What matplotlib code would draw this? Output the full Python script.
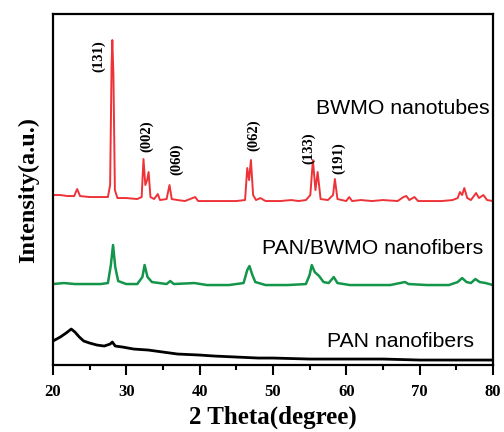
import matplotlib
matplotlib.use('Agg')
import matplotlib.pyplot as plt
from matplotlib.ticker import MultipleLocator

# XRD patterns (2 theta in degrees, intensity in arbitrary units)
bwmo_tth = [20.0, 21.0, 22.0, 22.9, 23.3, 23.7, 25.0, 26.5, 27.5, 27.8, 28.0, 28.1, 28.25, 28.45,
            28.8, 30.0, 31.5, 32.1, 32.35, 32.6, 32.85, 33.05, 33.3, 33.8, 34.3, 34.6, 35.5, 35.9,
            36.2, 37.0, 38.0, 39.4, 39.8, 41.0, 43.0, 45.0, 46.2, 46.5, 46.75, 47.0, 47.3, 47.7,
            48.3, 49.0, 51.0, 52.5, 53.5, 54.5, 55.1, 55.45, 55.8, 56.1, 56.5, 57.5, 58.2, 58.45,
            58.8, 60.0, 60.4, 60.8, 62.0, 63.5, 65.0, 67.0, 67.8, 68.2, 68.6, 69.3, 69.8, 71.0,
            73.0, 74.5, 75.2, 75.5, 75.8, 76.1, 76.5, 77.0, 77.7, 78.1, 78.7, 79.2, 80.0]
bwmo_int = [170, 170, 169, 169, 176, 169, 168, 168, 168, 180, 300, 325, 290, 175,
            167, 167, 166, 168, 206, 180, 185, 193, 168, 166, 171, 165, 166, 180,
            166, 165, 164, 168, 164, 164, 164, 164, 165, 197, 185, 205, 170, 165,
            167, 164, 164, 165, 164, 165, 170, 205, 175, 193, 166, 165, 170, 186,
            166, 164, 168, 164, 165, 164, 165, 164, 168, 169, 165, 168, 164, 164,
            164, 165, 167, 173, 170, 177, 167, 165, 172, 167, 170, 165, 164]

fiber_tth = [20.0, 21.5, 23.0, 25.0, 26.5, 27.5, 27.9, 28.2, 28.5, 28.9, 30.0, 31.5, 32.2, 32.5,
             32.9, 33.5, 35.5, 36.0, 36.5, 39.3, 41.0, 44.0, 46.0, 46.5, 46.8, 47.2, 47.6, 49.0,
             52.0, 54.5, 55.0, 55.3, 55.7, 56.3, 56.9, 57.6, 58.3, 58.8, 60.5, 63.0, 66.0, 68.0,
             68.5, 71.0, 74.0, 75.2, 75.8, 76.4, 77.0, 77.6, 78.2, 79.0, 80.0]
fiber_int = [81, 82, 81, 81, 81, 82, 100, 120, 98, 84, 81, 81, 88, 100,
             88, 83, 81, 84, 81, 82, 80, 80, 82, 95, 99, 90, 83, 80,
             80, 81, 90, 100, 93, 89, 83, 82, 88, 82, 80, 80, 80, 83,
             81, 80, 80, 83, 87, 83, 82, 86, 83, 82, 80]

pan_tth = [20.0, 20.5, 21.0, 21.8, 22.5, 23.0, 23.6, 24.2, 25.0, 26.0, 27.0, 27.8, 28.1, 28.5,
           29.5, 31.0, 33.0, 35.0, 37.0, 40.0, 42.0, 45.0, 48.0, 50.0, 55.0, 60.0, 65.0, 70.0,
           75.0, 80.0]
pan_int = [24, 26, 28, 32, 36, 33, 28, 24, 22, 20, 19, 21, 23, 19,
           18, 16, 15, 13, 11, 10, 9, 8, 7, 7, 6, 6, 6, 5,
           5, 5]

# Miller indices of the BWMO reflections and where their labels sit
hkl_labels = ['(131)', '(002)', '(060)', '(062)', '(133)', '(191)']
hkl_x = [26.3, 32.8, 36.9, 47.4, 54.9, 59.0]
hkl_y = [309, 229, 206, 230, 217, 207]

sample_names = ['BWMO nanotubes', 'PAN/BWMO nanofibers', 'PAN nanofibers']
name_x = [79.6, 78.7, 77.4]
name_y = [257, 117, 24]

serif = 'Liberation Serif'
sans = 'Liberation Sans'

fig = plt.figure(figsize=(5.04, 4.32), dpi=100)
ax = fig.add_axes([0.105, 0.155, 0.873, 0.8125])

ax.plot(bwmo_tth, bwmo_int, color='#ee3338', linewidth=1.4)
ax.plot(fiber_tth, fiber_int, color='#13954a', linewidth=1.8)
ax.plot(pan_tth, pan_int, color='black', linewidth=2.0)

for lab, x, y in zip(hkl_labels, hkl_x, hkl_y):
    ax.text(x, y, lab, rotation=90, ha='center', va='center',
            fontsize=10.5, fontweight='bold', family=serif)

for name, x, y in zip(sample_names, name_x, name_y):
    ax.text(x, y, name, ha='right', va='center', fontsize=15.3, family=sans)

ax.set_xlim(20, 80)
ax.set_ylim(0, 351)
ax.xaxis.set_major_locator(MultipleLocator(10))
ax.xaxis.set_minor_locator(MultipleLocator(5))
ax.tick_params(axis='x', which='major', direction='out', length=7, width=1.5, pad=7)
ax.tick_params(axis='x', which='minor', direction='out', length=3.5, width=1.5)
ax.set_yticks([])
for lbl in ax.get_xticklabels():
    lbl.set_fontfamily(serif)
    lbl.set_fontweight('bold')
    lbl.set_fontsize(12)

for sp in ax.spines.values():
    sp.set_linewidth(1.6)

ax.set_xlabel('2 Theta(degree)', fontsize=18, fontweight='bold', family=serif, labelpad=4)
ax.set_ylabel('Intensity(a.u.)', fontsize=17.5, fontweight='bold', family=serif, labelpad=10)

fig.savefig('out.png', dpi=100)
